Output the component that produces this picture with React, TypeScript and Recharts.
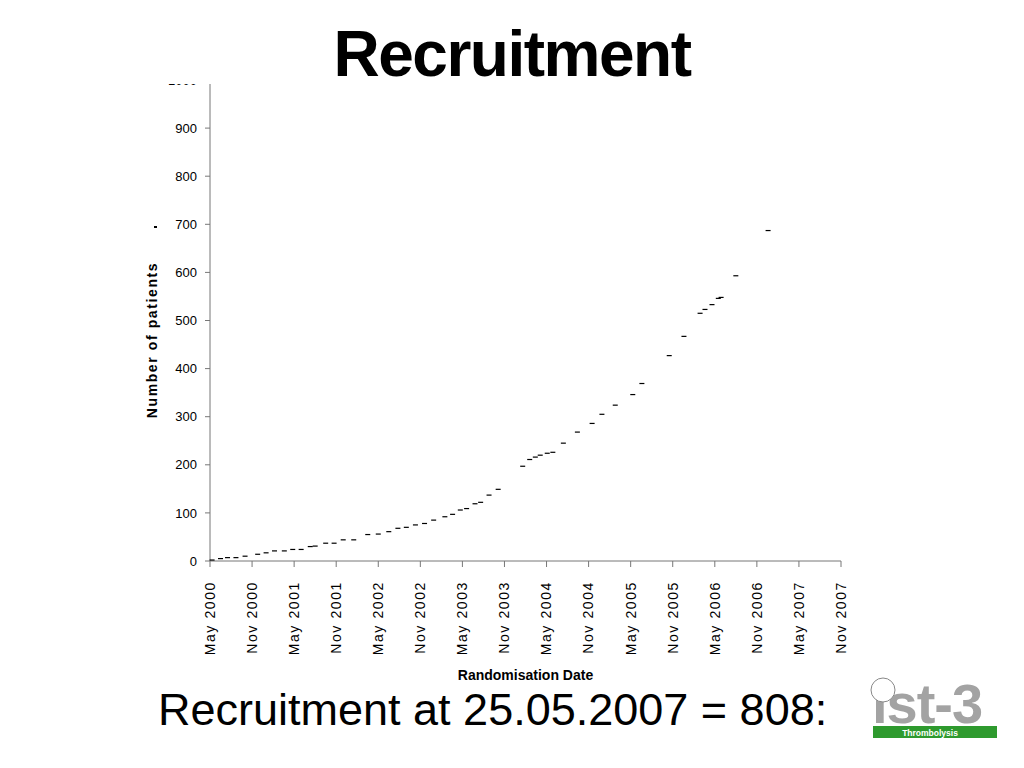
import React from 'react'
import { ScatterChart, Scatter, XAxis, YAxis, Label } from 'recharts'

// months since May 2000
const months = [
  0.3, 1.5, 2.5, 3.7, 5, 6.8, 8, 9.2, 10.6, 11.8, 13, 14.3, 15, 16.5, 17.7, 19, 20.5,
  22.5, 24, 25.5, 26.8, 28, 29.3, 30.6, 31.9, 33.5, 34.6, 35.7, 36.6, 37.8, 38.6,
  39.8, 41.1, 44.6, 45.6, 46.4, 47.1, 48.1, 48.9, 50.4, 52.4, 54.5, 55.9, 57.8,
  60.3, 61.6, 65.5, 67.6, 69.9, 70.6, 71.6, 72.5, 72.9, 75, 79.6,
]
const patients = [
  2, 5, 7, 7, 10, 14, 17, 21, 21, 24, 24, 30, 31, 37, 37, 44, 44,
  55, 56, 61, 68, 70, 75, 78, 85, 92, 97, 106, 109, 119, 122,
  137, 149, 197, 211, 216, 220, 224, 226, 245, 268, 286, 305, 324,
  346, 369, 427, 467, 515, 523, 533, 546, 548, 593, 687,
]

const xTicks = [0, 6, 12, 18, 24, 30, 36, 42, 48, 54, 60, 66, 72, 78, 84, 90]
const xTickLabels = [
  'May 2000', 'Nov 2000', 'May 2001', 'Nov 2001', 'May 2002', 'Nov 2002',
  'May 2003', 'Nov 2003', 'May 2004', 'Nov 2004', 'May 2005', 'Nov 2005',
  'May 2006', 'Nov 2006', 'May 2007', 'Nov 2007',
]
const yTicks = [0, 100, 200, 300, 400, 500, 600, 700, 800, 900, 1000]

const data = months.map((m, i) => ({ month: m, patients: patients[i] }))

const FONT = '"Liberation Sans", Arial, Helvetica, sans-serif'

const DateTick = ({ x, y, payload }: any) => {
  const label = xTickLabels[xTicks.indexOf(payload.value)] ?? ''
  const ty = y + 12
  return (
    <text
      x={x}
      y={ty}
      transform={`rotate(-90, ${x}, ${ty})`}
      textAnchor="end"
      dy="0.35em"
      fontSize={14}
      letterSpacing={1.6}
      fill="#000"
      fontFamily={FONT}
    >
      {label}
    </text>
  )
}

const Dash = ({ cx, cy }: any) => (
  <rect x={cx - 2.5} y={cy - 0.6} width={5} height={1.2} fill="#000" />
)

export default function App() {
  return (
    <div style={{ position: 'absolute', left: 0, top: 0, width: 1024, height: 768, background: '#fff', fontFamily: FONT, overflow: 'hidden' }}>
      <ScatterChart
        width={1024}
        height={768}
        margin={{ top: 80, right: 183, bottom: 82, left: 140 }}
        style={{ position: 'absolute', left: 0, top: 0 }}
      >
        <XAxis
          type="number"
          dataKey="month"
          domain={[0, 90]}
          ticks={xTicks}
          tick={<DateTick />}
          tickSize={6}
          height={125}
          stroke="#777"
          interval={0}
        >
          <Label
            value="Randomisation Date"
            position="insideBottom"
            offset={6}
            style={{ fontSize: 14, fontWeight: 'bold', fill: '#000', fontFamily: FONT }}
          />
        </XAxis>
        <YAxis
          type="number"
          dataKey="patients"
          domain={[0, 1000]}
          ticks={yTicks}
          tickSize={5}
          tickMargin={8}
          width={70}
          stroke="#777"
          tick={{ fontSize: 13, fill: '#000', fontFamily: FONT }}
          interval={0}
        />
        <Scatter data={data} fill="#000" shape={<Dash />} isAnimationActive={false} />
      </ScatterChart>

      <svg style={{ position: 'absolute', left: 0, top: 0 }} width={200} height={600}>
        <text
          x={152}
          y={340}
          transform="rotate(-90, 152, 340)"
          textAnchor="middle"
          dy="0.35em"
          fontSize={14}
          fontWeight="bold"
          letterSpacing={1.6}
          fill="#000"
          fontFamily={FONT}
        >
          Number of patients
        </text>
        <rect x={154} y={226} width={3} height={2} fill="#000" />
      </svg>

      <div style={{ position: 'absolute', left: 0, top: 0, width: 1024, height: 84, background: '#fff' }} />
      <div style={{ position: 'absolute', left: 0, top: 16, width: 1024, textAlign: 'center', fontSize: 64, fontWeight: 'bold', letterSpacing: -1.5, lineHeight: '76px', color: '#000' }}>
        Recruitment
      </div>

      <div style={{ position: 'absolute', left: 158, top: 684, fontSize: 45, lineHeight: '52px', color: '#000', whiteSpace: 'nowrap' }}>
        Recruitment at 25.05.2007 = 808:
      </div>

      <svg style={{ position: 'absolute', left: 860, top: 670 }} width={150} height={80}>
        <text x={12} y={53} fontSize={56} fontWeight={900} fill="#a3a3a3" fontFamily={FONT} letterSpacing={-1}>
          {'\u0131st-3'}
        </text>
        <circle cx={23} cy={20} r={12} fill="#fff" stroke="#888" strokeWidth={1} />
        <rect x={13} y={56} width={124} height={12} fill="#2e9a2e" />
        <text x={70} y={65.5} fontSize={8.5} fontWeight="bold" fill="#fff" textAnchor="middle" fontFamily={FONT}>
          Thrombolysis
        </text>
      </svg>
    </div>
  )
}
